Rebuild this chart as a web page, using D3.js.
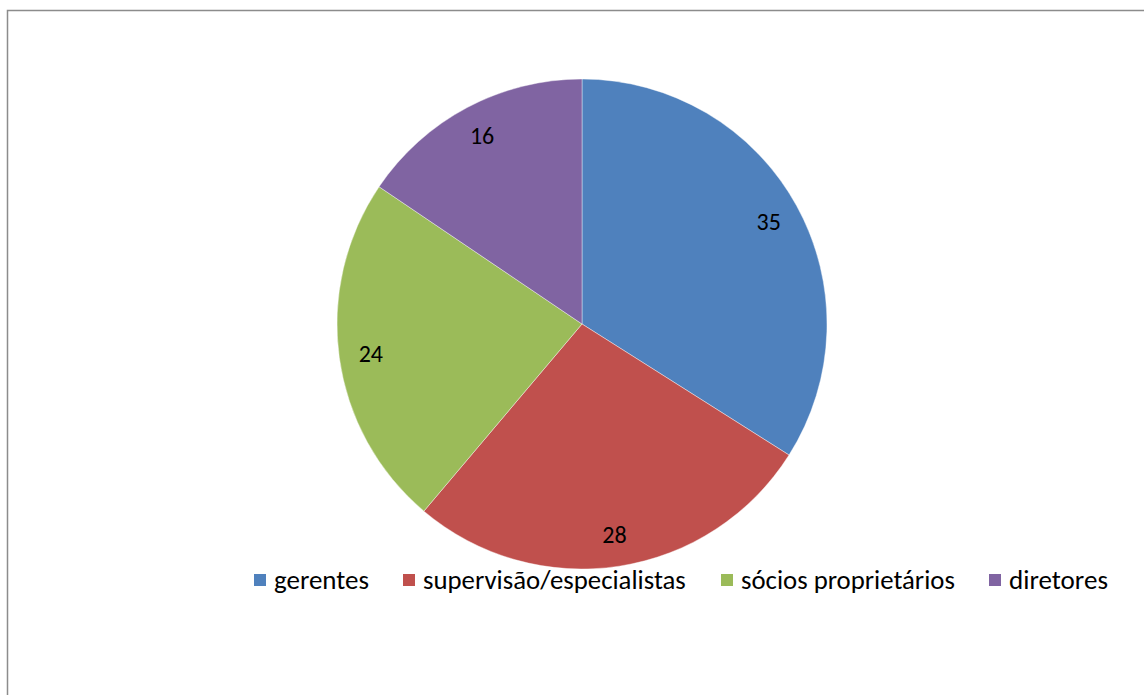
<!DOCTYPE html>
<html>
<head>
<meta charset="utf-8">
<script src="https://cdn.jsdelivr.net/npm/d3@7"></script>
<style>
  body { margin: 0; background: #fff; }
  svg text { font-family: Carlito, "Open Sans", "Noto Sans", sans-serif; }
</style>
</head>
<body>
<svg id="chart" width="1144" height="695"></svg>
<script>
const categories = ['gerentes', 'supervisão/especialistas', 'sócios proprietários', 'diretores'];
const values = [35, 28, 24, 16];
const colors = ['#4F81BD', '#C0504D', '#9BBB59', '#8064A2'];

const svg = d3.select('#chart');

// chart frame (only left and top edges are in view)
svg.append('rect').attr('x', 7.5).attr('y', 10.5).attr('width', 1150).attr('height', 700)
  .attr('fill', 'none').attr('stroke', '#8c8c8c').attr('stroke-width', 1.5);

const cx = 582, cy = 324, r = 245;
const data = categories.map((c, i) => ({ name: c, value: values[i], color: colors[i] }));

const pie = d3.pie().value(d => d.value).sort(null);
const arc = d3.arc().innerRadius(0).outerRadius(r);
const labelArc = d3.arc().innerRadius(r * 0.87).outerRadius(r * 0.87);

const g = svg.append('g').attr('transform', `translate(${cx},${cy})`);
const arcs = pie(data);

g.selectAll('path').data(arcs).enter().append('path')
  .attr('d', arc).attr('fill', d => d.data.color)
  .attr('stroke', '#fff').attr('stroke-width', 0.4);

g.selectAll('text.lbl').data(arcs).enter().append('text')
  .attr('class', 'lbl')
  .attr('transform', d => `translate(${labelArc.centroid(d)})`)
  .attr('text-anchor', 'middle').attr('dy', '0.35em')
  .attr('font-size', 24).attr('fill', '#000')
  .text(d => d.data.value);

// legend
const legendX = [254, 403, 721, 989];
const legendWidths = [95, 263, 214, 99];
const lg = svg.append('g');
data.forEach((d, i) => {
  lg.append('rect').attr('x', legendX[i]).attr('y', 574).attr('width', 12).attr('height', 12).attr('fill', d.color);
  const t = lg.append('text').attr('x', legendX[i] + 20).attr('y', 589)
    .attr('font-size', 24).attr('fill', '#000').text(d.name);
  const w = t.node().getComputedTextLength();
  t.attr('font-size', 24 * legendWidths[i] / w);
});
</script>
</body>
</html>
